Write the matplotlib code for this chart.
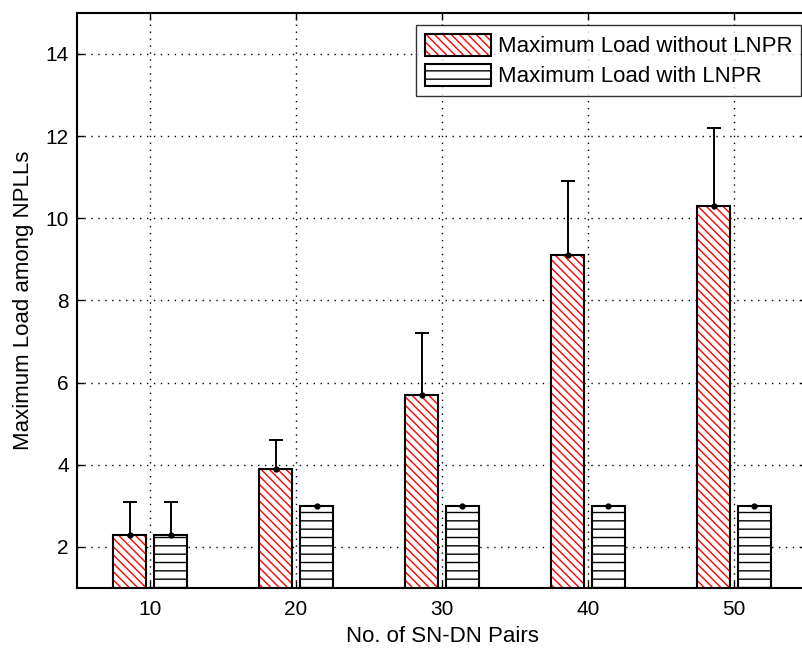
import numpy as np
import matplotlib
matplotlib.use("Agg")
import matplotlib.pyplot as plt
from matplotlib.patches import Patch
from matplotlib.legend_handler import HandlerTuple

plt.rcParams['font.family'] = ['Liberation Sans', 'DejaVu Sans']
plt.rcParams['hatch.linewidth'] = 1.0

pairs = [10, 20, 30, 40, 50]
load_without = [2.3, 3.9, 5.7, 9.1, 10.3]
err_without = [0.8, 0.7, 1.5, 1.8, 1.9]
load_with = [2.3, 3.0, 3.0, 3.0, 3.0]
err_with = [0.8, 0.0, 0.0, 0.0, 0.0]

labels = ["Maximum Load without LNPR", "Maximum Load with LNPR"]

fig = plt.figure(figsize=(8.03, 6.5), dpi=100)
ax = fig.add_axes([0.096, 0.0954, 0.909, 0.885])

x = np.array(pairs, dtype=float)
width = 2.3
off = 1.4

# red hatch drawn first, black outline on top
ax.bar(x - off, load_without, width, color="white", edgecolor="red",
       hatch="\\\\\\\\", linewidth=0, zorder=2)
ax.bar(x - off, load_without, width, color="none", edgecolor="black",
       linewidth=1.5, zorder=3)
ax.bar(x + off, load_with, width, color="white", edgecolor="black",
       hatch="--", linewidth=1.5, zorder=3)

ax.errorbar(x - off, load_without, yerr=[np.zeros(5), err_without], fmt="o",
            color="black", markersize=3.5, capsize=5, elinewidth=1.4,
            capthick=1.4, zorder=4)
ax.errorbar(x + off, load_with, yerr=[np.zeros(5), err_with], fmt="o",
            color="black", markersize=3.5, capsize=5, elinewidth=1.4,
            capthick=1.4, zorder=4)

ax.set_xlim(5, 55)
ax.set_ylim(1, 15)
ax.set_xticks(pairs)
ax.set_yticks([2, 4, 6, 8, 10, 12, 14])
ax.tick_params(direction="in", length=5, width=1, labelsize=15,
               top=True, right=True)
ax.tick_params(axis="x", pad=9)
ax.tick_params(axis="y", pad=6)
ax.grid(True, linestyle=(0, (1, 4)), color="black", linewidth=1.0, zorder=1)
ax.set_axisbelow(True)
for s in ax.spines.values():
    s.set_linewidth(1.5)

ax.set_xlabel("No. of SN-DN Pairs", fontsize=16, labelpad=5)
ax.set_ylabel("Maximum Load among NPLLs", fontsize=16, labelpad=8)

red_fill = Patch(facecolor="white", edgecolor="red", hatch="\\\\\\\\", linewidth=0)
red_edge = Patch(facecolor="none", edgecolor="black", linewidth=1.5)
black_bar = Patch(facecolor="white", edgecolor="black", hatch="--", linewidth=1.5)
leg = fig.legend([(red_fill, red_edge), black_bar], labels, loc="upper right",
                 bbox_to_anchor=(0.998, 0.962), fontsize=16, frameon=True,
                 fancybox=False, edgecolor="black", handlelength=3.0,
                 handleheight=1.15, borderpad=0.4, labelspacing=0.3,
                 handletextpad=0.3, borderaxespad=0,
                 handler_map={tuple: HandlerTuple(ndivide=1, pad=0)})
leg.get_frame().set_linewidth(1.0)

plt.savefig("out.png", dpi=100)
